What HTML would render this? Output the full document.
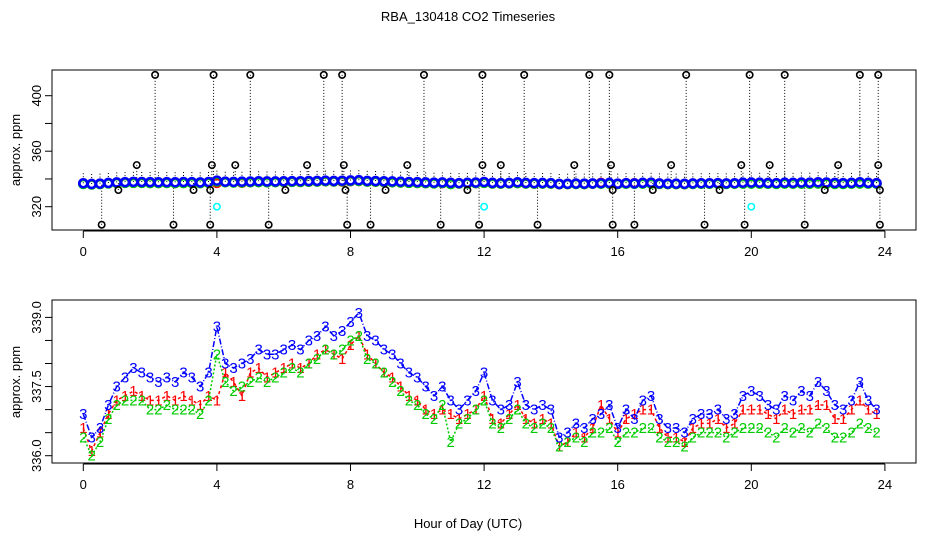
<!DOCTYPE html>
<html><head><meta charset="utf-8"><style>
body{margin:0;background:#fff;}
svg{display:block;font-family:"Liberation Sans",sans-serif;}
</style></head><body>
<svg id="chart" width="936" height="540" viewBox="0 0 936 540" xmlns="http://www.w3.org/2000/svg">
<text x="468" y="21" text-anchor="middle" font-size="13">RBA_130418  CO2 Timeseries</text>
<rect x="52" y="70" width="864" height="160" fill="none" stroke="#000"/>
<rect x="52" y="300" width="864" height="163" fill="none" stroke="#000"/>
<text x="468" y="528" text-anchor="middle" font-size="13">Hour of Day (UTC)</text>
<text transform="translate(20,150) rotate(-90)" text-anchor="middle" font-size="13">approx. ppm</text>
<text transform="translate(20,382) rotate(-90)" text-anchor="middle" font-size="13">approx. ppm</text>
<g id="gtop"></g><g id="gbot"></g>
</svg>
<script>
const xTicks=[0,4,8,12,16,20,24];
const topTicks=[320,340,360,380,400];
const topTickLabels=["320","","360","","400"];
const botTicks=[336.0,336.5,337.0,337.5,338.0,338.5,339.0];
const botTickLabels=["336.0","","","337.5","","","339.0"];
const step=0.25;
const s3=[336.9,336.4,336.6,337.1,337.5,337.7,337.9,337.8,337.7,337.6,337.7,337.6,337.8,337.7,337.5,337.8,338.8,338.0,337.9,338.0,338.1,338.3,338.2,338.2,338.3,338.4,338.3,338.5,338.6,338.8,338.6,338.7,338.9,339.1,338.6,338.5,338.3,338.2,338.0,337.8,337.7,337.5,337.3,337.5,337.2,337.0,337.2,337.4,337.8,337.2,337.0,337.1,337.6,337.1,337.0,337.1,337.0,336.4,336.5,336.7,336.6,336.8,336.9,337.1,336.6,337.0,336.8,337.2,337.3,336.8,336.6,336.6,336.5,336.8,336.9,336.9,337.0,336.8,336.9,337.3,337.4,337.3,337.1,337.0,337.3,337.2,337.4,337.3,337.6,337.4,337.1,337.0,337.2,337.6,337.2,337.0];
const s1=[336.6,336.1,336.5,336.9,337.2,337.3,337.4,337.3,337.2,337.2,337.3,337.2,337.3,337.2,337.1,337.3,337.2,337.8,337.6,337.3,337.8,337.9,337.7,337.8,337.9,338.0,337.9,338.0,338.2,338.3,338.2,338.1,338.4,338.6,338.2,338.0,337.8,337.7,337.5,337.3,337.2,337.0,336.9,337.0,336.9,336.8,336.9,337.0,337.3,336.8,336.7,336.9,337.1,336.8,336.7,336.8,336.7,336.2,336.3,336.5,336.4,336.6,337.1,336.8,336.5,336.8,336.9,337.0,337.0,336.6,336.4,336.4,336.3,336.6,336.7,336.7,336.8,336.6,336.7,337.0,337.0,337.0,336.9,336.8,337.0,336.9,337.0,337.0,337.1,337.1,336.8,336.8,337.0,337.2,337.0,336.9];
const s2=[336.4,336.0,336.3,336.8,337.1,337.2,337.2,337.2,337.0,337.0,337.1,337.0,337.0,337.0,336.9,337.2,338.2,337.6,337.4,337.5,337.6,337.7,337.6,337.7,337.8,337.9,337.8,338.0,338.1,338.3,338.2,338.3,338.5,338.6,338.1,338.0,337.8,337.6,337.4,337.2,337.1,336.9,336.8,337.1,336.3,336.7,336.8,337.0,337.2,336.7,336.6,336.8,337.0,336.7,336.6,336.7,336.6,336.2,336.3,336.4,336.3,336.5,336.5,336.6,336.3,336.5,336.5,336.6,336.6,336.4,336.3,336.3,336.2,336.4,336.5,336.5,336.5,336.4,336.5,336.6,336.6,336.6,336.5,336.4,336.6,336.5,336.6,336.5,336.7,336.6,336.4,336.4,336.5,336.7,336.6,336.5];
const outT=[2.15,3.9,5.0,7.2,7.75,10.2,11.95,13.2,15.15,15.75,18.05,19.95,21.0,23.25,23.8,0.55,2.7,3.8,5.55,7.9,8.6,10.7,11.85,13.6,15.85,16.5,18.6,19.8,21.6,23.85,1.6,3.85,4.55,6.7,7.8,9.7,11.95,12.5,14.7,15.8,17.6,19.7,20.55,22.6,23.8,1.05,3.3,3.8,6.05,7.85,9.05,11.5,15.85,17.05,19.05,22.2,23.85];
const outV=[415,415,415,415,415,415,415,415,415,415,415,415,415,415,415,307,307,307,307,307,307,307,307,307,307,307,307,307,307,307,350,350,350,350,350,350,350,350,350,350,350,350,350,350,350,332,332,332,332,332,332,332,332,332,332,332,332];
const cyanT=[4.0,12.0,20.0];
const cyanV=[320,320,320];
{
const NS="http://www.w3.org/2000/svg";
const X=h=>83.3+h*33.4;
const YT=v=>206.7-(v-320)*1.3875;
const YB=v=>455.7-(v-336)*46.1;
function mk(p,t,a){const e=document.createElementNS(NS,t);for(const k in a)e.setAttribute(k,a[k]);p.appendChild(e);return e;}
const gT=document.getElementById('gtop'),gB=document.getElementById('gbot');

xTicks.forEach((h,i)=>{
  [[231,'top'],[464,'bottom']].forEach(([y0,nm])=>{
    const l=mk(gT,'line',{x1:X(h),x2:X(h),y1:y0,y2:y0+7,stroke:'#000'});
    
    
    const t=mk(gT,'text',{x:X(h),y:y0+25,'text-anchor':'middle','font-size':'13'});
    t.textContent=h;
    
    
  });
});
const xa1=mk(gT,'line',{x1:X(0),x2:X(24),y1:231,y2:231,stroke:'#000'});


const xa2=mk(gT,'line',{x1:X(0),x2:X(24),y1:464,y2:464,stroke:'#000'});


topTicks.forEach((v,i)=>{
  const l=mk(gT,'line',{x1:45,x2:52,y1:YT(v),y2:YT(v),stroke:'#000'});
  
  
  if(topTickLabels[i]){const t=mk(gT,'text',{transform:`translate(41,${YT(v)}) rotate(-90)`,'text-anchor':'middle','font-size':'13'});
  t.textContent=topTickLabels[i];
  
  }
});
botTicks.forEach((v,i)=>{
  const l=mk(gT,'line',{x1:45,x2:52,y1:YB(v),y2:YB(v),stroke:'#000'});
  
  
  if(botTickLabels[i]){const t=mk(gT,'text',{transform:`translate(41,${YB(v)}) rotate(-90)`,'text-anchor':'middle','font-size':'13'});
  t.textContent=botTickLabels[i];
  
  }
});

s3.forEach((v,i)=>{
  const l=mk(gT,'line',{x1:X(i*step),x2:X(i*step),y1:YT(v),y2:YT(v+8),stroke:'#000','stroke-dasharray':'1,2'});
  
  
});
outT.forEach((h,i)=>{
  const l=mk(gT,'line',{x1:X(h),x2:X(h),y1:YT(outV[i]),y2:YT(337),stroke:'#000','stroke-dasharray':'1,2'});
  
  
});
[[s1,'#f00'],[s2,'#0c0'],[s3,'#00f']].forEach(([s,c],k)=>{
  s.forEach((v,i)=>{
    const p=mk(gT,'circle',{cx:X(i*step),cy:YT(v),r:4,fill:'none',stroke:c,'stroke-width':2.6});
    
    
  });
});
outT.forEach((h,i)=>{
  const p=mk(gT,'circle',{cx:X(h),cy:YT(outV[i]),r:3.2,fill:'none',stroke:'#000','stroke-width':1.6});
  
  
});
cyanT.forEach((h,i)=>{
  const p=mk(gT,'circle',{cx:X(h),cy:YT(cyanV[i]),r:3.2,fill:'none',stroke:'#0ff','stroke-width':1.6});
  
  
});

[[s1,'#f00','1','3,3'],[s2,'#0c0','2','2,2'],[s3,'#00f','3','6,2,1,2']].forEach(([s,c,lab,dash],k)=>{
  const pl=mk(gB,'polyline',{points:s.map((v,i)=>X(i*step)+','+YB(v)).join(' '),fill:'none',stroke:c,'stroke-width':1.5,'stroke-dasharray':dash});
  
  
  s.forEach((v,i)=>{
    const t=mk(gB,'text',{x:X(i*step),y:YB(v)+5,'text-anchor':'middle','font-size':'15',fill:c});
    t.textContent=lab;
    
    
  });
});
}
</script>
</body></html>
